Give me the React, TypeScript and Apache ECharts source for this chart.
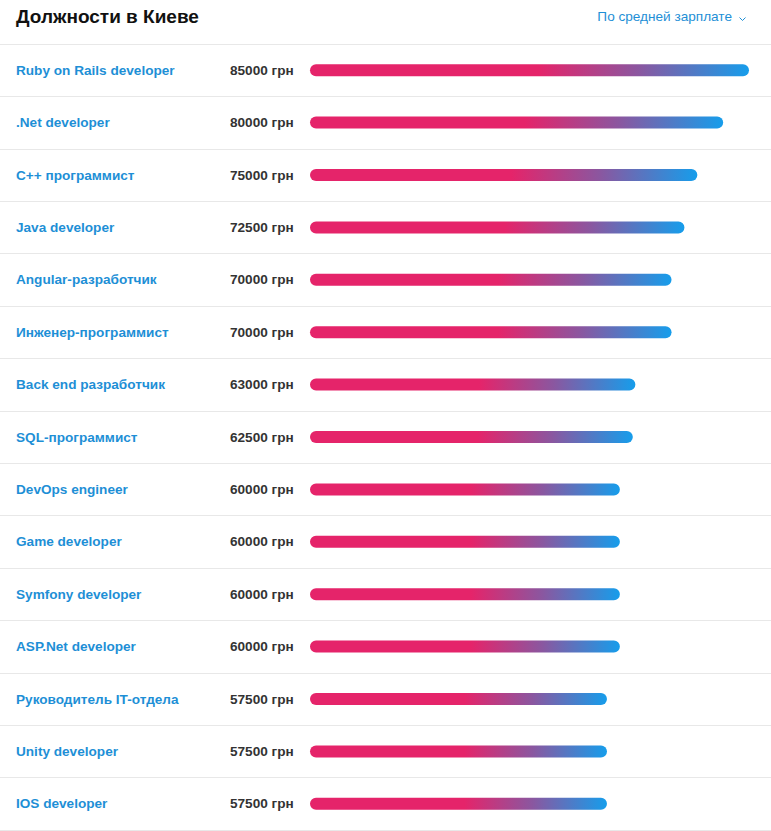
import React, { useEffect, useRef } from "react";
import * as echarts from "echarts";

const titleText = "Должности в Киеве";
const sortText = "По средней зарплате";
const categories = [
  "Ruby on Rails developer",
  ".Net developer",
  "C++ программист",
  "Java developer",
  "Angular-разработчик",
  "Инженер-программист",
  "Back end разработчик",
  "SQL-программист",
  "DevOps engineer",
  "Game developer",
  "Symfony developer",
  "ASP.Net developer",
  "Руководитель IT-отдела",
  "Unity developer",
  "IOS developer",
];
const salaries = [85000, 80000, 75000, 72500, 70000, 70000, 63000, 62500, 60000, 60000, 60000, 60000, 57500, 57500, 57500];
const unit = "грн";

export default function App() {
  const ref = useRef<HTMLDivElement>(null);
  useEffect(() => {
    document.body.style.margin = "0";
    const chart = echarts.init(ref.current!, null, { renderer: "svg" });
    const font = "'Liberation Sans', Arial, sans-serif";
    chart.setOption({
      animation: false,
      title: [
        {
          text: titleText,
          left: 11,
          top: 2,
          padding: 5,
          textStyle: { fontFamily: font, fontSize: 19, fontWeight: "bold", color: "#111" },
        },
        {
          text: sortText,
          right: 34,
          top: 4,
          padding: 5,
          textStyle: { fontFamily: font, fontSize: 13.6, fontWeight: "normal", color: "#1e8fd6" },
        },
      ],
      graphic: [
        {
          type: "polyline",
          right: 23,
          top: 15,
          shape: { points: [[0, 0], [3, 3], [6, 0]] },
          style: { stroke: "#1e8fd6", lineWidth: 1, fill: "none" },
        },
      ],
      grid: [
        { left: 310, right: 22, top: 44, bottom: 1, containLabel: false },
        { left: 0, right: 0, top: 44, bottom: 1, containLabel: false },
      ],
      xAxis: [
        { type: "value", min: 0, max: 85000, show: false, gridIndex: 0 },
        { type: "value", min: 0, max: 1, show: false, gridIndex: 1 },
      ],
      yAxis: [
        {
          type: "category",
          gridIndex: 0,
          inverse: true,
          data: categories,
          axisLine: { show: false },
          axisTick: { show: false },
          splitLine: { show: false },
          axisLabel: {
            align: "left",
            margin: 294,
            formatter: (v: string, i: number) => `{n|${v}}{v|${salaries[i]} ${unit}}`,
            rich: {
              n: { width: 214, fontFamily: font, fontSize: 13.6, fontWeight: "bold", color: "#1e8fd6" },
              v: { fontFamily: font, fontSize: 13.6, fontWeight: "bold", color: "#333" },
            },
          },
        },
        {
          type: "category",
          gridIndex: 1,
          inverse: true,
          data: categories,
          axisLine: { show: false },
          axisTick: { show: false },
          axisLabel: { show: false },
          splitLine: { show: true, lineStyle: { color: "#e8e8e8", width: 1 } },
        },
      ],
      series: [
        {
          type: "bar",
          xAxisIndex: 0,
          yAxisIndex: 0,
          data: salaries,
          barWidth: 12,
          itemStyle: {
            borderRadius: 6,
            color: new echarts.graphic.LinearGradient(0, 0, 1, 0, [
              { offset: 0, color: "#e5246a" },
              { offset: 0.52, color: "#e5246a" },
              { offset: 0.75, color: "#8a57a0" },
              { offset: 1, color: "#169deb" },
            ]),
          },
        },
      ],
    });
    return () => chart.dispose();
  }, []);
  return <div ref={ref} style={{ width: 771, height: 831 }} />;
}
